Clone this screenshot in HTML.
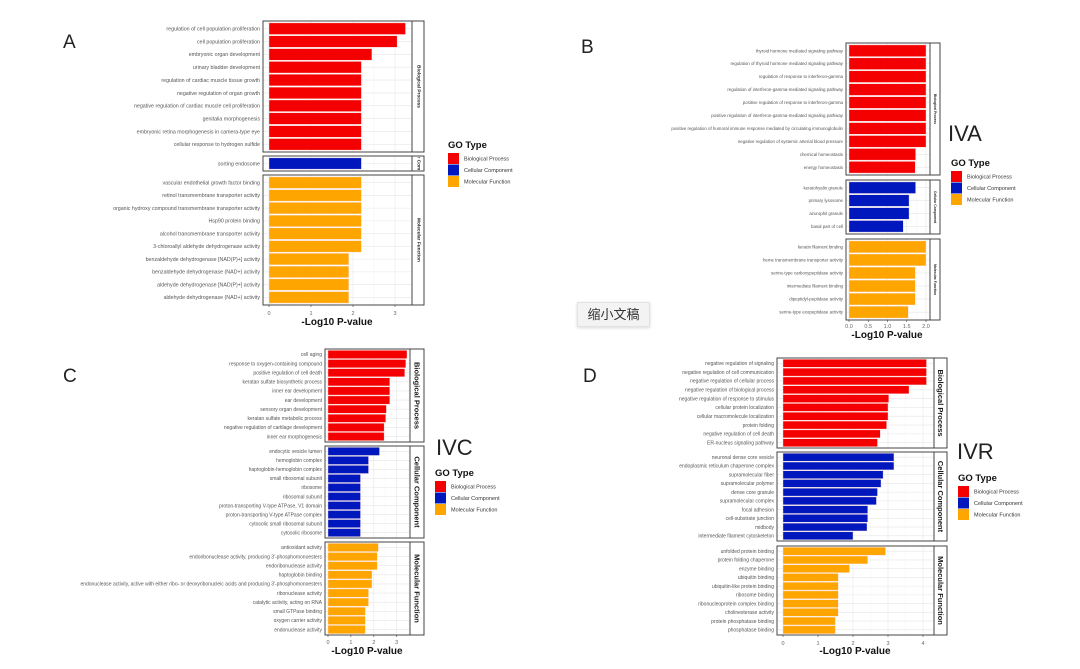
<!DOCTYPE html>
<html><head><meta charset="utf-8">
<style>
html,body{margin:0;padding:0;background:#fff;}
body{width:1080px;height:669px;overflow:hidden;position:relative;font-family:"Liberation Sans","Noto Sans CJK SC",sans-serif;}
svg{position:absolute;left:0;top:0;}
.btn{position:absolute;left:577px;top:302px;width:71px;height:23px;background:#f3f3f3;border:1px solid #e2e2e2;box-shadow:0 1px 3px rgba(0,0,0,.15);font-size:13px;color:#333;line-height:23px;text-align:center;font-family:"Liberation Sans","Noto Sans CJK SC",sans-serif;}
</style></head>
<body>
<svg id="fig" width="1080" height="669" viewBox="0 0 1080 669"></svg>
<div class="btn">缩小文稿</div>
<script>
// ---------- Panel A data ----------
const aBpLabels=["regulation of cell population proliferation","cell population proliferation","embryonic organ development","urinary bladder development","regulation of cardiac muscle tissue growth","negative regulation of organ growth","negative regulation of cardiac muscle cell proliferation","genitalia morphogenesis","embryonic retina morphogenesis in camera-type eye","cellular response to hydrogen sulfide"];
const aBpValues=[3.25,3.05,2.45,2.2,2.2,2.2,2.2,2.2,2.2,2.2];
const aCcLabels=["sorting endosome"];
const aCcValues=[2.2];
const aMfLabels=["vascular endothelial growth factor binding","retinol transmembrane transporter activity","organic hydroxy compound transmembrane transporter activity","Hsp90 protein binding","alcohol transmembrane transporter activity","3-chloroallyl aldehyde dehydrogenase activity","benzaldehyde dehydrogenase [NAD(P)+] activity","benzaldehyde dehydrogenase (NAD+) activity","aldehyde dehydrogenase [NAD(P)+] activity","aldehyde dehydrogenase (NAD+) activity"];
const aMfValues=[2.2,2.2,2.2,2.2,2.2,2.2,1.9,1.9,1.9,1.9];
const aTicks=[0,1,2,3];
// ---------- Panel B data ----------
const bBpLabels=["thyroid hormone mediated signaling pathway","regulation of thyroid hormone mediated signaling pathway","regulation of response to interferon-gamma","regulation of interferon-gamma-mediated signaling pathway","positive regulation of response to interferon-gamma","positive regulation of interferon-gamma-mediated signaling pathway","positive regulation of humoral immune response mediated by circulating immunoglobulin","negative regulation of systemic arterial blood pressure","chemical homeostasis","energy homeostasis"];
const bBpValues=[2.0,2.0,2.0,2.0,2.0,2.0,2.0,2.0,1.73,1.72];
const bCcLabels=["keratohyalin granule","primary lysosome","azurophil granule","basal part of cell"];
const bCcValues=[1.73,1.56,1.56,1.41];
const bMfLabels=["keratin filament binding","heme transmembrane transporter activity","serine-type carboxypeptidase activity","intermediate filament binding","dipeptidyl-peptidase activity","serine-type exopeptidase activity"];
const bMfValues=[2.0,2.0,1.72,1.72,1.72,1.54];
const bTicks=[0,0.5,1,1.5,2];
const bTickLabels=["0.0","0.5","1.0","1.5","2.0"];
// ---------- Panel C data ----------
const cBpLabels=["cell aging","response to oxygen-containing compound","positive regulation of cell death","keratan sulfate biosynthetic process","inner ear development","ear development","sensory organ development","keratan sulfate metabolic process","negative regulation of cartilage development","inner ear morphogenesis"];
const cBpValues=[3.45,3.4,3.35,2.7,2.7,2.7,2.55,2.52,2.45,2.45];
const cCcLabels=["endocytic vesicle lumen","hemoglobin complex","haptoglobin-hemoglobin complex","small ribosomal subunit","ribosome","ribosomal subunit","proton-transporting V-type ATPase, V1 domain","proton-transporting V-type ATPase complex","cytosolic small ribosomal subunit","cytosolic ribosome"];
const cCcValues=[2.25,1.77,1.77,1.42,1.42,1.42,1.42,1.42,1.42,1.42];
const cMfLabels=["antioxidant activity","endoribonuclease activity, producing 3'-phosphomonoesters","endoribonuclease activity","haptoglobin binding","endonuclease activity, active with either ribo- or deoxyribonucleic acids and producing 3'-phosphomonoesters","ribonuclease activity","catalytic activity, acting on RNA","small GTPase binding","oxygen carrier activity","endonuclease activity"];
const cMfValues=[2.2,2.15,2.15,1.92,1.92,1.77,1.77,1.63,1.63,1.63];
const cTicks=[0,1,2,3];
// ---------- Panel D data ----------
const dBpLabels=["negative regulation of signaling","negative regulation of cell communication","negative regulation of cellular process","negative regulation of biological process","negative regulation of response to stimulus","cellular protein localization","cellular macromolecule localization","protein folding","negative regulation of cell death","ER-nucleus signaling pathway"];
const dBpValues=[4.1,4.1,4.1,3.6,3.02,3.0,3.0,2.96,2.78,2.7];
const dCcLabels=["neuronal dense core vesicle","endoplasmic reticulum chaperone complex","supramolecular fiber","supramolecular polymer","dense core granule","supramolecular complex","focal adhesion","cell-substrate junction","midbody","intermediate filament cytoskeleton"];
const dCcValues=[3.17,3.17,2.86,2.8,2.7,2.67,2.42,2.42,2.4,2.0];
const dMfLabels=["unfolded protein binding","protein folding chaperone","enzyme binding","ubiquitin binding","ubiquitin-like protein binding","ribosome binding","ribonucleoprotein complex binding","cholinesterase activity","protein phosphatase binding","phosphatase binding"];
const dMfValues=[2.93,2.42,1.9,1.58,1.58,1.58,1.58,1.58,1.49,1.49];
const dTicks=[0,1,2,3,4];

const legendNames=["Biological Process","Cellular Component","Molecular Function"];
const COLORS=["#f50000","#0017bd","#ffa500"];
const NS="http://www.w3.org/2000/svg";
const svg=document.getElementById('fig');

function mk(tag,attrs,parent,text){
  const e=document.createElementNS(NS,tag);
  for(const k in attrs) e.setAttribute(k,attrs[k]);
  if(text!==undefined) e.textContent=text;
  (parent||svg).appendChild(e);
  return e;
}

function drawPanel(cfg){
  const g=mk('g',{});
  
  
  const xs=v=>cfg.x0+(v-0)*(cfg.x1-cfg.x0)/cfg.xMax;
  cfg.facets.forEach((f,fi)=>{
    const fg=mk('g',{},g);
    
    
    const n=f.labels.length;
    const h=f.bottom-f.top;
    const unit=h/(n+0.2);
    mk('rect',{x:cfg.left,y:f.top,width:cfg.right-cfg.left,height:h,fill:'#fff'},fg);
    const minor=cfg.ticks.length>1?(cfg.ticks[1]-cfg.ticks[0])/2:0.5;
    for(let v=0; v<=cfg.xMaxGrid+1e-9; v+=minor){
      const major=cfg.ticks.some(t=>Math.abs(t-v)<1e-9);
      mk('line',{x1:xs(v),x2:xs(v),y1:f.top,y2:f.bottom,stroke:major?'#e6e6e6':'#f3f3f3','stroke-width':major?0.6:0.4},fg);
    }
    f.labels.forEach((lab,i)=>{
      const cy=f.top+unit*(0.6+i);
      mk('line',{x1:cfg.left,x2:cfg.right,y1:cy,y2:cy,stroke:'#e6e6e6','stroke-width':0.6},fg);
      const bar=mk('rect',{x:xs(0),y:cy-unit*0.45,width:xs(f.values[i])-xs(0),height:unit*0.9,fill:COLORS[f.type],stroke:'#fbe0e0','stroke-width':0.4},fg);
      
      
      const t=mk('text',{x:cfg.left-3,y:cy+cfg.labelSize*0.35,'text-anchor':'end','font-size':cfg.labelSize,fill:'#555'},fg,lab);
      
      
    });
    mk('rect',{x:cfg.left,y:f.top,width:cfg.right-cfg.left,height:h,fill:'none',stroke:'#444','stroke-width':1},fg);
    mk('rect',{x:cfg.right,y:f.top,width:cfg.strip-cfg.right,height:h,fill:'#fff',stroke:'#444','stroke-width':1},fg);
    const cp='clip-'+cfg.name+fi;
    const cl=mk('clipPath',{id:cp},fg);
    mk('rect',{x:cfg.right,y:f.top+1,width:cfg.strip-cfg.right,height:h-2},cl);
    const cg=mk('g',{'clip-path':`url(#${cp})`},fg);
    const sx=(cfg.right+cfg.strip)/2, sy=(f.top+f.bottom)/2;
    const st=mk('text',{x:sx,y:sy,'text-anchor':'middle','font-size':cfg.stripSize,'font-weight':'bold',fill:'#1a1a1a',transform:`rotate(90 ${sx} ${sy})`,'dominant-baseline':'central'},cg,legendNames[f.type]);
    
    
  });
  const last=cfg.facets[cfg.facets.length-1].bottom;
  cfg.ticks.forEach((t,i)=>{
    mk('line',{x1:xs(t),x2:xs(t),y1:last,y2:last+2,stroke:'#444','stroke-width':0.6},g);
    const tl=mk('text',{x:xs(t),y:cfg.tickY,'text-anchor':'middle','font-size':5.5,fill:'#666'},g,cfg.tickLabels?cfg.tickLabels[i]:String(t));
    
    
  });
  const xt=mk('text',{x:cfg.titleX,y:cfg.titleY,'text-anchor':'middle','font-size':10,'font-weight':'bold',fill:'#111'},g,'-Log10 P-value');
  
  
  const lt=mk('text',{x:cfg.letterX,y:cfg.letterY,'font-size':19,fill:'#222'},g,cfg.letter);
  
  
  if(cfg.tag){
    const tg=mk('text',{x:cfg.tagX,y:cfg.tagY,'font-size':22,fill:'#222'},g,cfg.tag);
    
    
  }
  const lg=mk('g',{},g);
  
  
  mk('text',{x:cfg.legX,y:cfg.legY,'font-size':9.5,'font-weight':'bold',fill:'#111'},lg,'GO Type');
  legendNames.forEach((nm,i)=>{
    const y=cfg.legY+5+i*11.5;
    const r=mk('rect',{x:cfg.legX,y:y,width:11,height:11,fill:COLORS[i]},lg);
    
    
    const t=mk('text',{x:cfg.legX+16,y:y+7.5,'font-size':5.5,fill:'#333'},lg,nm);
    
    
  });
}

drawPanel({name:'panel-a',letter:'A',letterX:63,letterY:48,left:263,right:412,strip:424,x0:269,x1:395,xMax:3,xMaxGrid:3.5,ticks:aTicks,tickY:315,titleX:337,titleY:325,labelSize:5.3,stripSize:4.8,legX:448,legY:148,
  facets:[{top:21,bottom:152,labels:aBpLabels,values:aBpValues,type:0},{top:156,bottom:171,labels:aCcLabels,values:aCcValues,type:1},{top:175,bottom:305,labels:aMfLabels,values:aMfValues,type:2}]});
drawPanel({name:'panel-b',letter:'B',letterX:581,letterY:53,tag:'IVA',tagX:948,tagY:141,left:846,right:930,strip:940,x0:849,x1:926,xMax:2,xMaxGrid:2.25,ticks:bTicks,tickLabels:bTickLabels,tickY:328,titleX:887,titleY:338,labelSize:4.4,stripSize:3.4,legX:951,legY:166,
  facets:[{top:43,bottom:175,labels:bBpLabels,values:bBpValues,type:0},{top:180,bottom:234,labels:bCcLabels,values:bCcValues,type:1},{top:239,bottom:320,labels:bMfLabels,values:bMfValues,type:2}]});
drawPanel({name:'panel-c',letter:'C',letterX:63,letterY:382,tag:'IVC',tagX:436,tagY:455,left:325,right:410,strip:424,x0:328,x1:396.7,xMax:3,xMaxGrid:3.5,ticks:cTicks,tickY:644,titleX:367,titleY:654,labelSize:5,stripSize:7.5,legX:435,legY:476,
  facets:[{top:349,bottom:442,labels:cBpLabels,values:cBpValues,type:0},{top:446,bottom:538,labels:cCcLabels,values:cCcValues,type:1},{top:542,bottom:635,labels:cMfLabels,values:cMfValues,type:2}]});
drawPanel({name:'panel-d',letter:'D',letterX:583,letterY:382,tag:'IVR',tagX:957,tagY:459,left:777,right:934,strip:947,x0:783,x1:923,xMax:4,xMaxGrid:4.25,ticks:dTicks,tickY:645,titleX:855,titleY:654,labelSize:5,stripSize:7.5,legX:958,legY:481,
  facets:[{top:358,bottom:448,labels:dBpLabels,values:dBpValues,type:0},{top:452,bottom:541,labels:dCcLabels,values:dCcValues,type:1},{top:546,bottom:635,labels:dMfLabels,values:dMfValues,type:2}]});
</script>
</body></html>
